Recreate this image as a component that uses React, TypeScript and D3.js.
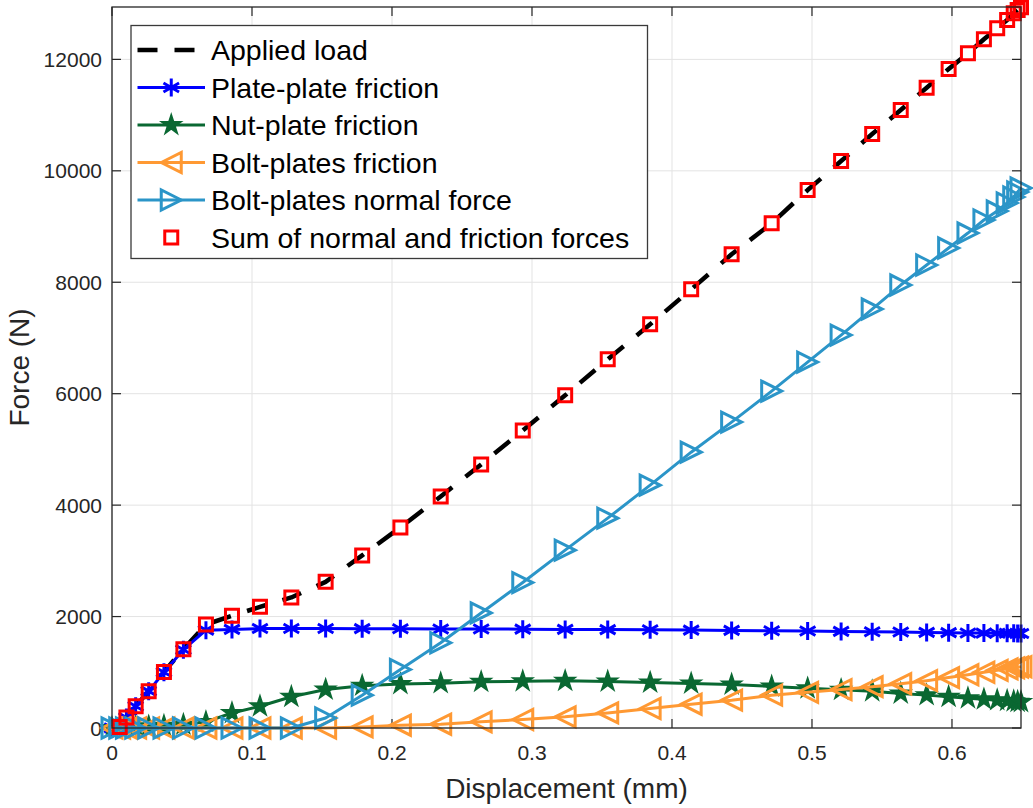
import React from "react";
import * as d3 from "d3";

// Displacement (mm) at each solver increment
const displacement = [
  0, 0.0055, 0.0103, 0.0169, 0.0262, 0.0371, 0.051, 0.0671, 0.0857, 0.1057, 0.1281, 0.1526,
  0.1787, 0.206, 0.2348, 0.2637, 0.2934, 0.3237, 0.3541, 0.3844, 0.4137, 0.4426, 0.4712, 0.4969,
  0.5208, 0.543, 0.5634, 0.5819, 0.5976, 0.6114, 0.6228, 0.6323, 0.6394, 0.6441, 0.6469, 0.6493,
];

// Forces (N)
const appliedLoad = [
  0, 20, 188, 391, 661, 1007, 1415, 1858, 2013, 2174, 2343, 2623, 3097, 3600, 4156, 4731, 5341,
  5970, 6617, 7245, 7873, 8502, 9058, 9655, 10175, 10660, 11091, 11492, 11827, 12109, 12361,
  12558, 12707, 12827, 12886, 12940,
];
const plateFriction = [
  0, 20, 188, 391, 661, 1000, 1405, 1756, 1770, 1785, 1785, 1785, 1783, 1780, 1778, 1776, 1774,
  1770, 1766, 1762, 1757, 1752, 1746, 1740, 1734, 1728, 1722, 1716, 1711, 1706, 1703, 1701, 1700,
  1699, 1698, 1697,
];
const nutFriction = [
  0, 0, 10, 20, 30, 40, 60, 110, 270, 390, 560, 690, 760, 790, 805, 828, 840, 846, 835, 815, 800,
  781, 745, 712, 685, 660, 620, 590, 560, 535, 515, 500, 490, 480, 472, 468,
];
const boltFriction = [
  0, 0, 0, 0, 0, 0, 0, 0, 0, 0, 0, 0, 20, 50, 68, 110, 152, 200, 271, 350, 427, 499, 589, 640, 690,
  742, 795, 850, 905, 955, 1000, 1035, 1062, 1080, 1092, 1100,
];
const boltNormal = [
  0, 0, 0, 0, 0, 0, 0, 0, 0, 0, 0, 180, 589, 1050, 1530, 2065, 2610, 3192, 3766, 4358, 4950, 5490,
  6046, 6567, 7052, 7519, 7950, 8309, 8614, 8883, 9117, 9278, 9422, 9530, 9620, 9691,
];
const forceSum: (number | null)[] = [
  null, 20, 188, 391, 661, 1007, 1415, 1858, 2013, 2174, 2343, 2623, 3097, 3600, 4156, 4731, 5341,
  5970, 6617, 7245, 7873, 8502, 9058, 9655, 10175, 10660, 11091, 11492, 11827, 12109, 12361,
  12558, 12707, 12827, 12886, 12935,
];

const xTicks = [0, 0.1, 0.2, 0.3, 0.4, 0.5, 0.6];
const yTicks = [0, 2000, 4000, 6000, 8000, 10000, 12000];

const W = 1033;
const H = 808;
const plot = { left: 112, right: 1021, top: 7, bottom: 728 };
const FONT = "'Liberation Sans', Arial, Helvetica, sans-serif";
const AXIS_COLOR = "#262626";

type MarkerKind = "asterisk" | "star" | "triLeft" | "triRight" | "square" | "none";

function markerPath(kind: MarkerKind, cx: number, cy: number): string {
  if (kind === "asterisk") {
    const r = 9;
    const p = d3.path();
    [90, 30, -30].forEach((deg) => {
      const a = (deg * Math.PI) / 180;
      p.moveTo(cx + r * Math.cos(a), cy - r * Math.sin(a));
      p.lineTo(cx - r * Math.cos(a), cy + r * Math.sin(a));
    });
    return p.toString();
  }
  if (kind === "star") {
    const ro = 10.5;
    const ri = ro * 0.382;
    const pts: [number, number][] = [];
    for (let i = 0; i < 10; i++) {
      const r = i % 2 === 0 ? ro : ri;
      const a = -Math.PI / 2 + (i * Math.PI) / 5;
      pts.push([cx + r * Math.cos(a), cy + r * Math.sin(a)]);
    }
    return "M" + pts.map((q) => q.join(",")).join("L") + "Z";
  }
  if (kind === "triLeft") {
    const r = 10;
    return `M${cx - r},${cy}L${cx + r},${cy - r}L${cx + r},${cy + r}Z`;
  }
  if (kind === "triRight") {
    const r = 10;
    return `M${cx + r},${cy}L${cx - r},${cy - r}L${cx - r},${cy + r}Z`;
  }
  if (kind === "square") {
    const s = 6.5;
    return `M${cx - s},${cy - s}H${cx + s}V${cy + s}H${cx - s}Z`;
  }
  return "";
}

interface Series {
  name: string;
  values: (number | null)[];
  color: string;
  line: boolean;
  dash?: string;
  lineWidth: number;
  marker: MarkerKind;
  fillMarker: boolean;
}

const series: Series[] = [
  { name: "Applied load", values: appliedLoad, color: "#000000", line: true, dash: "20 17", lineWidth: 4.5, marker: "none", fillMarker: false },
  { name: "Plate-plate friction", values: plateFriction, color: "#0000ff", line: true, lineWidth: 3, marker: "asterisk", fillMarker: false },
  { name: "Nut-plate friction", values: nutFriction, color: "#0a6832", line: true, lineWidth: 3, marker: "star", fillMarker: true },
  { name: "Bolt-plates friction", values: boltFriction, color: "#ff9933", line: true, lineWidth: 3, marker: "triLeft", fillMarker: false },
  { name: "Bolt-plates normal force", values: boltNormal, color: "#2b95c8", line: true, lineWidth: 3, marker: "triRight", fillMarker: false },
  { name: "Sum of normal and friction forces", values: forceSum, color: "#ff0000", line: false, lineWidth: 3, marker: "square", fillMarker: false },
];

export default function App() {
  const x = d3.scaleLinear().domain([0, d3.max(displacement) as number]).range([plot.left, plot.right]);
  const y = d3.scaleLinear().domain([0, d3.max(appliedLoad) as number]).range([plot.bottom, plot.top]);

  const lineFor = (vals: (number | null)[]) =>
    d3
      .line<number>()
      .defined((i) => vals[i] != null)
      .x((i) => x(displacement[i]))
      .y((i) => y(vals[i] as number))(displacement.map((_, i) => i)) || "";

  const tickLen = 9;

  const legend = { x: 131, y: 25.5, w: 516.5, h: 233, row0: 50, rowStep: 37.5, lineX0: 137.5, lineX1: 205, textX: 211 };

  return (
    <svg
      width={W}
      height={H}
      style={{ position: "absolute", left: 0, top: 0, background: "#ffffff" }}
      fontFamily={FONT}
    >
      <rect x={0} y={0} width={W} height={H} fill="#ffffff" />
      {/* grid */}
      <g stroke="#e3e3e3" strokeWidth={1}>
        {xTicks.map((t) => (
          <line key={"gx" + t} x1={x(t)} x2={x(t)} y1={plot.top} y2={plot.bottom} />
        ))}
        {yTicks.map((t) => (
          <line key={"gy" + t} x1={plot.left} x2={plot.right} y1={y(t)} y2={y(t)} />
        ))}
      </g>

      {/* ticks on all four sides */}
      <g stroke={AXIS_COLOR} strokeWidth={1.2}>
        {xTicks.map((t) => (
          <g key={"tx" + t}>
            <line x1={x(t)} x2={x(t)} y1={plot.bottom} y2={plot.bottom - tickLen} />
            <line x1={x(t)} x2={x(t)} y1={plot.top} y2={plot.top + tickLen} />
          </g>
        ))}
        {yTicks.map((t) => (
          <g key={"ty" + t}>
            <line x1={plot.left} x2={plot.left + tickLen} y1={y(t)} y2={y(t)} />
            <line x1={plot.right} x2={plot.right - tickLen} y1={y(t)} y2={y(t)} />
          </g>
        ))}
      </g>

      {/* tick labels */}
      <g fill={AXIS_COLOR} fontSize={21}>
        {xTicks.map((t) => (
          <text key={"lx" + t} x={x(t)} y={760} textAnchor="middle">
            {d3.format("~g")(t)}
          </text>
        ))}
        {yTicks.map((t) => (
          <text key={"ly" + t} x={102} y={y(t) + 7.5} textAnchor="end">
            {t}
          </text>
        ))}
      </g>

      {/* axis titles */}
      <text x={(plot.left + plot.right) / 2} y={798} textAnchor="middle" fontSize={28} fill={AXIS_COLOR}>
        Displacement (mm)
      </text>
      <text
        transform={`translate(29,${(plot.top + plot.bottom) / 2}) rotate(-90)`}
        textAnchor="middle"
        fontSize={28}
        fill={AXIS_COLOR}
      >
        Force (N)
      </text>

      {/* series lines and markers */}
      {series.map((s) => (
        <g key={s.name}>
          {s.line && (
            <path
              d={lineFor(s.values)}
              fill="none"
              stroke={s.color}
              strokeWidth={s.lineWidth}
              strokeDasharray={s.dash}
              strokeLinejoin="round"
            />
          )}
          {s.marker !== "none" &&
            s.values.map((v, i) =>
              v == null ? null : (
                <path
                  key={i}
                  d={markerPath(s.marker, x(displacement[i]), y(v))}
                  fill={s.fillMarker ? s.color : "none"}
                  stroke={s.color}
                  strokeWidth={s.marker === "star" ? 1.5 : 3}
                  strokeLinejoin="miter"
                />
              )
            )}
        </g>
      ))}

      {/* axes box */}
      <rect
        x={plot.left}
        y={plot.top}
        width={plot.right - plot.left}
        height={plot.bottom - plot.top}
        fill="none"
        stroke={AXIS_COLOR}
        strokeWidth={1.3}
      />

      {/* legend */}
      <g>
        <rect x={legend.x} y={legend.y} width={legend.w} height={legend.h} fill="#ffffff" stroke="#3a3a3a" strokeWidth={1.3} />
        {series.map((s, i) => {
          const cy = legend.row0 + i * legend.rowStep;
          const mx = (legend.lineX0 + legend.lineX1) / 2;
          return (
            <g key={"lg" + s.name}>
              {s.line && (
                <line
                  x1={legend.lineX0}
                  x2={legend.lineX1}
                  y1={cy}
                  y2={cy}
                  stroke={s.color}
                  strokeWidth={s.lineWidth}
                  strokeDasharray={s.dash}
                />
              )}
              {s.marker !== "none" && (
                <path
                  d={markerPath(s.marker, mx, cy)}
                  fill={s.fillMarker ? s.color : "none"}
                  stroke={s.color}
                  strokeWidth={s.marker === "star" ? 1.5 : 3}
                />
              )}
              <text x={legend.textX} y={cy + 10} fontSize={28.5} fill="#000000">
                {s.name}
              </text>
            </g>
          );
        })}
      </g>
    </svg>
  );
}
